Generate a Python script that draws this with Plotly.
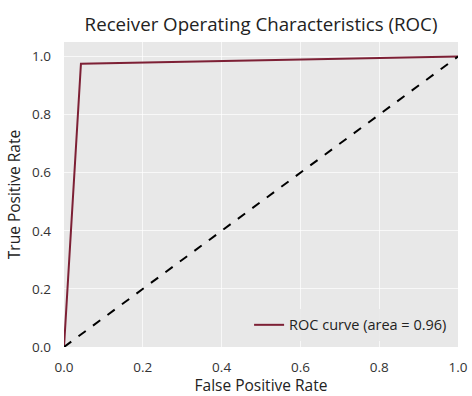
import plotly.graph_objects as go

fpr = [0.0, 0.043, 1.0]
tpr = [0.0, 0.975, 1.0]
diag_x = [0.0, 1.0]
diag_y = [0.0, 1.0]
roc_auc = 0.96
tick_vals = [0.0, 0.2, 0.4, 0.6, 0.8, 1.0]
tick_text = ["0.0", "0.2", "0.4", "0.6", "0.8", "1.0"]

fig = go.Figure()
fig.add_trace(go.Scatter(x=fpr, y=tpr, mode="lines",
                         line=dict(color="#7d2035", width=2),
                         name=f"ROC curve (area = {roc_auc:.2f})"))
fig.add_trace(go.Scatter(x=diag_x, y=diag_y, mode="lines",
                         line=dict(color="black", width=2, dash="dash"),
                         showlegend=False))

fig.update_layout(
    width=472, height=396,
    margin=dict(l=64, r=14, t=42, b=49),
    paper_bgcolor="white",
    plot_bgcolor="#e8e8e8",
    font=dict(family="Open Sans", size=13, color="#222"),
    title=dict(text="Receiver Operating Characteristics (ROC)",
               x=0.553, xanchor="center", y=0.939, yanchor="middle",
               font=dict(size=18.7, color="#222")),
    xaxis=dict(range=[0, 1], tickvals=tick_vals, ticktext=tick_text,
               showgrid=True, gridcolor="rgba(255,255,255,0.7)", gridwidth=1,
               zeroline=False, showline=False, ticks="",
               ticklabelstandoff=10, automargin=False,
               tickfont=dict(size=13.5, color="#333"),
               title=dict(text="False Positive Rate", font=dict(size=15.5), standoff=10)),
    yaxis=dict(range=[0, 1.05], tickvals=tick_vals, ticktext=tick_text,
               showgrid=True, gridcolor="rgba(255,255,255,0.7)", gridwidth=1,
               zeroline=False, showline=False, ticks="",
               ticklabelstandoff=12, automargin=False,
               tickfont=dict(size=13.5, color="#333"),
               title=dict(text="True Positive Rate", font=dict(size=15.5), standoff=7)),
    legend=dict(x=0.985, y=0.02, xanchor="right", yanchor="bottom",
                bgcolor="rgba(232,232,232,0.9)", font=dict(size=14.5)),
)

fig.write_html("out.html", config={"displayModeBar": False},
               post_script="document.body.style.margin='0';document.body.style.overflow='hidden';")
